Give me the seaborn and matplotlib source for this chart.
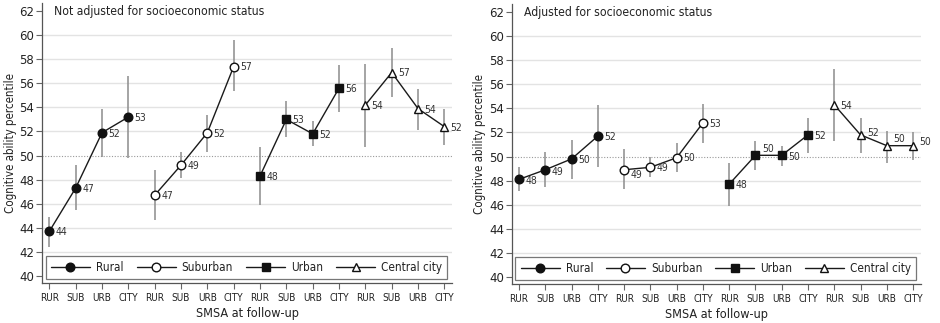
import matplotlib
matplotlib.use("Agg")
import matplotlib.pyplot as plt
from matplotlib.lines import Line2D
import seaborn as sns
import pandas as pd
import numpy as np

# ---------------- data ----------------
categories = ["RUR", "SUB", "URB", "CITY"]
groups = ["Rural", "Suburban", "Urban", "Central city"]

panel_titles = ["Not adjusted for socioeconomic status", "Adjusted for socioeconomic status"]

# Not adjusted
na_mean = {
    "Rural":        [43.7, 47.3, 51.9, 53.2],
    "Suburban":     [46.7, 49.2, 51.9, 57.4],
    "Urban":        [48.3, 53.0, 51.8, 55.6],
    "Central city": [54.2, 56.9, 53.9, 52.4],
}
na_low = {
    "Rural":        [42.4, 45.5, 49.9, 49.8],
    "Suburban":     [44.6, 48.1, 50.3, 55.4],
    "Urban":        [45.9, 51.5, 50.8, 53.6],
    "Central city": [50.7, 54.9, 52.1, 50.9],
}
na_high = {
    "Rural":        [44.9, 49.2, 53.9, 56.6],
    "Suburban":     [48.8, 50.3, 53.4, 59.6],
    "Urban":        [50.7, 54.5, 52.9, 57.5],
    "Central city": [57.6, 58.9, 55.5, 53.9],
}
na_labels = {
    "Rural":        ["44", "47", "52", "53"],
    "Suburban":     ["47", "49", "52", "57"],
    "Urban":        ["48", "53", "52", "56"],
    "Central city": ["54", "57", "54", "52"],
}

# Adjusted
ad_mean = {
    "Rural":        [48.1, 48.9, 49.8, 51.7],
    "Suburban":     [48.9, 49.1, 49.9, 52.8],
    "Urban":        [47.7, 50.1, 50.1, 51.8],
    "Central city": [54.3, 51.8, 50.9, 50.9],
}
ad_low = {
    "Rural":        [47.1, 47.5, 48.1, 49.1],
    "Suburban":     [47.3, 48.3, 48.7, 51.1],
    "Urban":        [45.9, 48.9, 49.2, 50.3],
    "Central city": [51.3, 50.3, 49.5, 49.7],
}
ad_high = {
    "Rural":        [49.1, 50.4, 51.4, 54.3],
    "Suburban":     [50.6, 50.0, 51.1, 54.4],
    "Urban":        [49.5, 51.25, 50.9, 53.2],
    "Central city": [57.25, 53.2, 52.1, 52.0],
}
ad_labels = {
    "Rural":        ["48", "49", "50", "52"],
    "Suburban":     ["49", "49", "50", "53"],
    "Urban":        ["48", "50", "50", "52"],
    "Central city": ["54", "52", "50", "50"],
}

# label vertical offsets (points) - styling
na_dy = {g: [-0.7, -0.7, -0.7, -0.7] for g in groups}
ad_dy = {
    "Rural":        [-1.5, -1.5, -0.7, -0.7],
    "Suburban":     [-3.5, -0.5, -0.5, -0.5],
    "Urban":        [-0.7, 4.5, -1.0, -0.5],
    "Central city": [-1.0, 1.5, 4.5, 3.0],
}

markers = {"Rural": "o", "Suburban": "o", "Urban": "s", "Central city": "^"}
facecolors = {"Rural": "#111111", "Suburban": "white", "Urban": "#111111", "Central city": "white"}
msizes = {"Rural": 6.2, "Suburban": 6.2, "Urban": 6.0, "Central city": 6.4}

# ---------------- style ----------------
sns.set_theme(style="white")
plt.rcParams["font.family"] = ["DejaVu Sans"]
plt.rcParams["font.stretch"] = "condensed"

fig = plt.figure(figsize=(9.4, 3.23), dpi=100)
ax_pos = [
    [42 / 940, 1 - 283 / 323, 410 / 940, 280 / 323],
    [511.7 / 940, 1 - 284 / 323, 409 / 940, 280 / 323],
]

panels = [
    (na_mean, na_low, na_high, na_labels, na_dy),
    (ad_mean, ad_low, ad_high, ad_labels, ad_dy),
]

for p, (means, lows, highs, labels, dys) in enumerate(panels):
    ax = fig.add_axes(ax_pos[p])
    # gridlines
    for yv in range(42, 62, 2):
        if yv == 50:
            continue
        ax.axhline(yv, color="#e3e3e3", lw=1.0, zorder=0)
    ax.axhline(50, color="#9a9a9a", lw=0.8, ls=(0, (1, 1.5)), zorder=0.5)

    for gi, g in enumerate(groups):
        xs = [gi * 4 + ci for ci in range(len(categories))]
        df = pd.DataFrame({"x": xs, "y": means[g]})
        ax.vlines(xs, lows[g], highs[g], color="#8c8c8c", lw=1.1, zorder=1)
        sns.lineplot(data=df, x="x", y="y", ax=ax, color="#1a1a1a", lw=1.0,
                     marker=markers[g], markersize=msizes[g],
                     markerfacecolor=facecolors[g], markeredgecolor="#111111",
                     markeredgewidth=1.0, errorbar=None, sort=False, zorder=3)
        for xi, yi, lab, dy in zip(xs, means[g], labels[g], dys[g]):
            ax.annotate(lab, (xi, yi), xytext=(4.6, dy), textcoords="offset points",
                        ha="left", va="center", fontsize=7.5, color="#333333", zorder=4)

    ax.set_xlim(-0.28, 15.29)
    ax.set_ylim(39.4, 62.68)
    ax.set_yticks(range(40, 63, 2))
    ax.set_yticklabels([str(v) for v in range(40, 63, 2)])
    ax.set_xticks(range(16))
    ax.set_xticklabels(categories * 4)
    ax.tick_params(axis="y", labelsize=9.4, length=4, width=0.8, color="#666666",
                   pad=1.5, labelcolor="#222222", left=True)
    ax.tick_params(axis="x", labelsize=7.2, length=4, width=0.8, color="#666666",
                   pad=3, labelcolor="#222222", bottom=True)
    for s in ["top", "right"]:
        ax.spines[s].set_visible(False)
    for s in ["left", "bottom"]:
        ax.spines[s].set_color("#555555")
        ax.spines[s].set_linewidth(0.9)
    ax.set_xlabel("SMSA at follow-up", fontsize=9.1, color="#222222", labelpad=3)
    ax.set_ylabel("Cognitive ability percentile", fontsize=8.3, color="#222222", labelpad=2)
    ax.text(0.029, 0.971, panel_titles[p], transform=ax.transAxes, fontsize=8.7,
            ha="left", va="center", color="#222222")

    handles = [Line2D([0], [0], color="#1a1a1a", lw=1.0, marker=markers[g],
                      markersize=msizes[g], markerfacecolor=facecolors[g],
                      markeredgecolor="#111111", markeredgewidth=1.0)
               for g in groups]
    leg = ax.legend(handles, groups, loc="lower left", ncol=4, mode="expand",
                    bbox_to_anchor=(0.009, 0.014, 0.98, 0.079), fontsize=8.4,
                    frameon=True, fancybox=False, handlelength=3.35, handletextpad=0.5,
                    borderpad=0.45, borderaxespad=0, columnspacing=1.0)
    leg.get_frame().set_edgecolor("#555555")
    leg.get_frame().set_linewidth(0.9)
    for t in leg.get_texts():
        t.set_color("#222222")

fig.savefig("out.png", dpi=100)
